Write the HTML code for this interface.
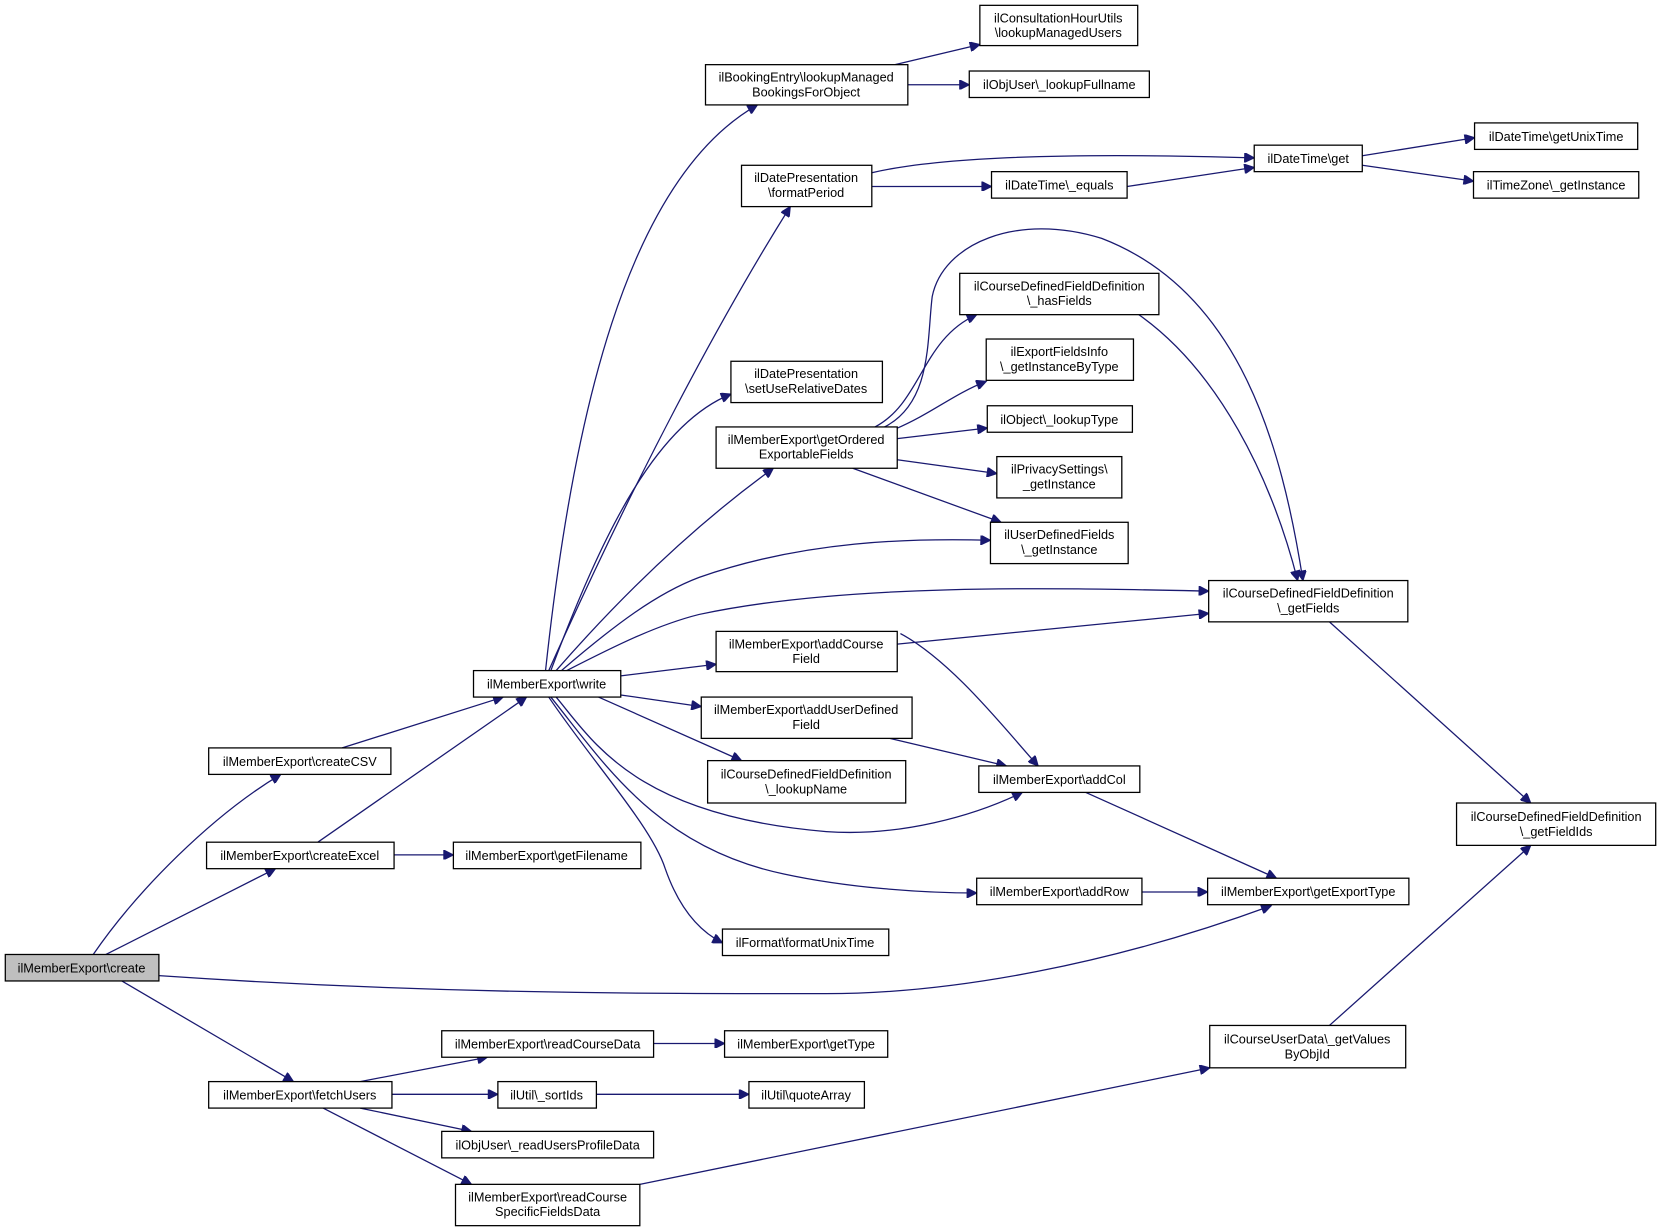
<!DOCTYPE html>
<html><head><meta charset="utf-8"><style>
html,body{margin:0;padding:0;background:#fff;}
svg{display:block;}
text{font-family:"Liberation Sans",Arial,sans-serif;font-size:12px;fill:#000;text-anchor:middle;}
rect{fill:#fff;stroke:#000;stroke-width:1.2;}
path{fill:none;stroke:#191970;stroke-width:1.2;}
</style></head><body>
<svg width="1661" height="1231" viewBox="0 0 1568 1162" xmlns="http://www.w3.org/2000/svg">
<defs><marker id="a" viewBox="0 0 10 10" refX="10" refY="5" markerWidth="11" markerHeight="9" markerUnits="userSpaceOnUse" orient="auto"><path d="M0,0L10,5L0,10z" style="fill:#191970;stroke:#191970"/></marker></defs>
<g marker-end="url(#a)">
<path d="M88,901 C130,840 200,770 265,731"/>
<path d="M100,901 L260,820"/>
<path d="M115,926 L277,1021"/>
<path d="M150,921 C400,938 600,938 780,938 C900,938 1050,910 1200,855"/>
<path d="M323,706 L475,658"/>
<path d="M300,795 L497,658"/>
<path d="M372,807 L428,807"/>
<path d="M340,1021 L460,998"/>
<path d="M370,1033 L470,1033"/>
<path d="M340,1046 L445,1068"/>
<path d="M305,1046 L445,1118"/>
<path d="M617,985 L684,985"/>
<path d="M563,1033 L707,1033"/>
<path d="M604,1118 L1142,1008"/>
<path d="M1255,968 L1445,798"/>
<path d="M515,633 C540,400 590,170 715,99"/>
<path d="M518,633 C600,450 680,300 746,195"/>
<path d="M520,633 C570,500 620,400 690,372"/>
<path d="M525,633 C580,570 650,500 730,442"/>
<path d="M530,633 C580,590 620,560 660,545 C760,510 860,508 935,510"/>
<path d="M535,633 C580,610 620,590 660,580 C800,550 1000,555 1141,558"/>
<path d="M586,638 L676,627"/>
<path d="M586,656 L662,667"/>
<path d="M565,658 L700,718"/>
<path d="M525,658 C560,700 600,770 780,785 C850,790 920,770 965,748"/>
<path d="M520,658 C570,720 620,800 740,825 C800,838 870,843 922,843"/>
<path d="M518,658 C560,720 615,780 628,820 C642,860 662,880 682,890"/>
<path d="M845,61 L925,42"/>
<path d="M857,80 L915,80"/>
<path d="M823,163 C900,145 1050,145 1184,149"/>
<path d="M823,176 L936,176"/>
<path d="M1064,176 L1184,158"/>
<path d="M1286,147 L1392,130"/>
<path d="M1286,156 L1391,171"/>
<path d="M826,403 C870,380 870,320 922,297"/>
<path d="M835,403 C880,380 875,320 880,280 C890,230 960,200 1040,225 C1170,275 1210,420 1230,548"/>
<path d="M845,405 C880,390 900,372 931,360"/>
<path d="M847,414 L932,404"/>
<path d="M847,434 L941,447"/>
<path d="M805,442 L945,493"/>
<path d="M1075,297 C1150,350 1200,450 1225,548"/>
<path d="M847,608 L1141,579"/>
<path d="M850,598 C900,625 950,690 980,723"/>
<path d="M840,697 L950,723"/>
<path d="M1025,748 L1205,829"/>
<path d="M1078,842 L1140,842"/>
<path d="M1255,587 L1445,758"/>
</g>
<rect x="5" y="901" width="145" height="25" style="fill:#bfbfbf"/><text x="77" y="918">ilMemberExport\create</text>
<rect x="197" y="706" width="172" height="25"/><text x="283" y="723">ilMemberExport\createCSV</text>
<rect x="195" y="795" width="177" height="25"/><text x="283" y="812">ilMemberExport\createExcel</text>
<rect x="197" y="1021" width="173" height="25"/><text x="283" y="1038">ilMemberExport\fetchUsers</text>
<rect x="447" y="633" width="139" height="25"/><text x="516" y="650">ilMemberExport\write</text>
<rect x="428" y="795" width="177" height="25"/><text x="516" y="812">ilMemberExport\getFilename</text>
<rect x="417" y="973" width="200" height="25"/><text x="517" y="990">ilMemberExport\readCourseData</text>
<rect x="470" y="1021" width="93" height="25"/><text x="516" y="1038">ilUtil\_sortIds</text>
<rect x="417" y="1068" width="200" height="25"/><text x="517" y="1085">ilObjUser\_readUsersProfileData</text>
<rect x="430" y="1118" width="174" height="39"/><text x="517" y="1134">ilMemberExport\readCourse</text><text x="517" y="1148">SpecificFieldsData</text>
<rect x="666" y="61" width="191" height="38"/><text x="761" y="77">ilBookingEntry\lookupManaged</text><text x="761" y="91">BookingsForObject</text>
<rect x="700" y="156" width="123" height="39"/><text x="761" y="172">ilDatePresentation</text><text x="761" y="186">\formatPeriod</text>
<rect x="690" y="341" width="143" height="39"/><text x="761" y="357">ilDatePresentation</text><text x="761" y="371">\setUseRelativeDates</text>
<rect x="676" y="403" width="171" height="39"/><text x="761" y="419">ilMemberExport\getOrdered</text><text x="761" y="433">ExportableFields</text>
<rect x="676" y="596" width="171" height="38"/><text x="761" y="612">ilMemberExport\addCourse</text><text x="761" y="626">Field</text>
<rect x="662" y="658" width="199" height="39"/><text x="761" y="674">ilMemberExport\addUserDefined</text><text x="761" y="688">Field</text>
<rect x="668" y="718" width="187" height="40"/><text x="761" y="735">ilCourseDefinedFieldDefinition</text><text x="761" y="749">\_lookupName</text>
<rect x="682" y="877" width="157" height="25"/><text x="760" y="894">ilFormat\formatUnixTime</text>
<rect x="684" y="973" width="154" height="25"/><text x="761" y="990">ilMemberExport\getType</text>
<rect x="707" y="1021" width="109" height="25"/><text x="761" y="1038">ilUtil\quoteArray</text>
<rect x="925" y="5" width="149" height="38"/><text x="999" y="21">ilConsultationHourUtils</text><text x="999" y="35">\lookupManagedUsers</text>
<rect x="915" y="67" width="170" height="25"/><text x="1000" y="84">ilObjUser\_lookupFullname</text>
<rect x="936" y="162" width="128" height="25"/><text x="1000" y="179">ilDateTime\_equals</text>
<rect x="906" y="258" width="188" height="39"/><text x="1000" y="274">ilCourseDefinedFieldDefinition</text><text x="1000" y="288">\_hasFields</text>
<rect x="931" y="320" width="139" height="39"/><text x="1000" y="336">ilExportFieldsInfo</text><text x="1000" y="350">\_getInstanceByType</text>
<rect x="932" y="383" width="137" height="25"/><text x="1000" y="400">ilObject\_lookupType</text>
<rect x="941" y="431" width="118" height="39"/><text x="1000" y="447">ilPrivacySettings\</text><text x="1000" y="461">_getInstance</text>
<rect x="935" y="493" width="130" height="39"/><text x="1000" y="509">ilUserDefinedFields</text><text x="1000" y="523">\_getInstance</text>
<rect x="924" y="723" width="152" height="25"/><text x="1000" y="740">ilMemberExport\addCol</text>
<rect x="922" y="829" width="156" height="25"/><text x="1000" y="846">ilMemberExport\addRow</text>
<rect x="1184" y="137" width="102" height="25"/><text x="1235" y="154">ilDateTime\get</text>
<rect x="1141" y="548" width="188" height="39"/><text x="1235" y="564">ilCourseDefinedFieldDefinition</text><text x="1235" y="578">\_getFields</text>
<rect x="1140" y="829" width="190" height="25"/><text x="1235" y="846">ilMemberExport\getExportType</text>
<rect x="1142" y="968" width="185" height="40"/><text x="1234" y="985">ilCourseUserData\_getValues</text><text x="1234" y="999">ByObjId</text>
<rect x="1392" y="116" width="154" height="25"/><text x="1469" y="133">ilDateTime\getUnixTime</text>
<rect x="1391" y="162" width="156" height="25"/><text x="1469" y="179">ilTimeZone\_getInstance</text>
<rect x="1375" y="758" width="188" height="40"/><text x="1469" y="775">ilCourseDefinedFieldDefinition</text><text x="1469" y="789">\_getFieldIds</text>
</svg>
</body></html>
